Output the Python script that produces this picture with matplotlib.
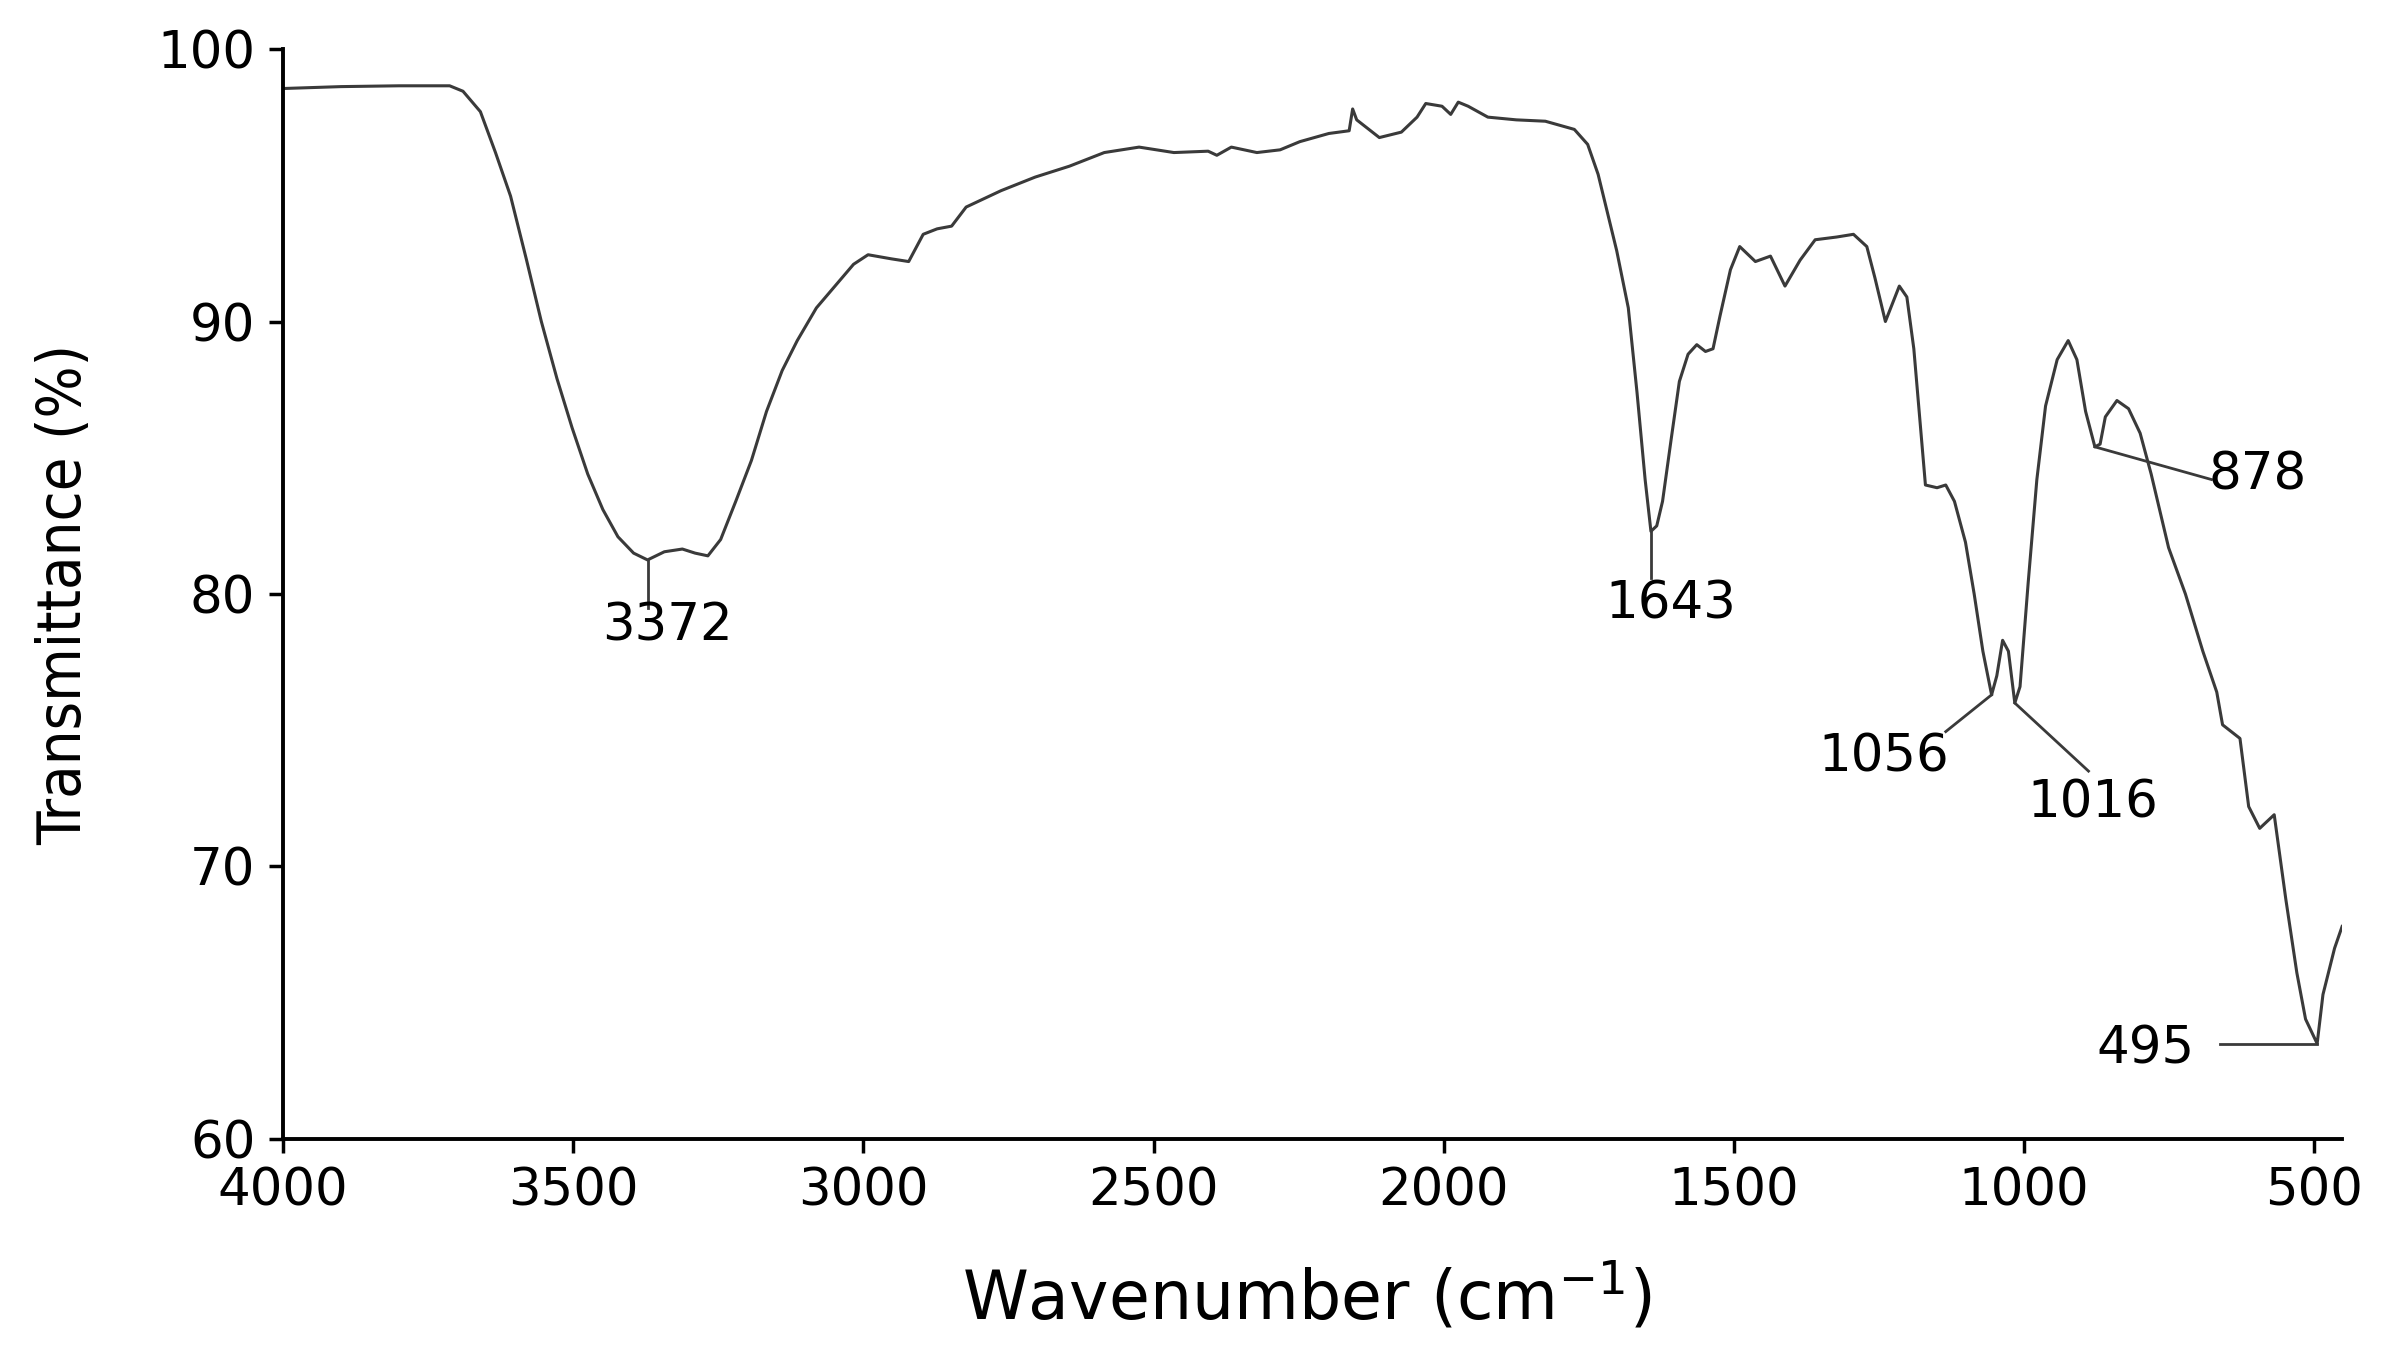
import matplotlib
matplotlib.use("Agg")
import matplotlib.pyplot as plt

# FTIR spectrum (wavenumber in cm-1, transmittance in %)
wavenumber = [4000, 3900, 3800, 3713, 3690, 3660, 3634, 3608, 3581, 3555,
              3528, 3502, 3475, 3449, 3423, 3396, 3372, 3343, 3312, 3290,
              3268, 3246, 3220, 3193, 3167, 3140, 3114, 3081, 3041, 3017,
              2992, 2952, 2922, 2897, 2873, 2848, 2823, 2763, 2704, 2645,
              2585, 2525, 2465, 2406, 2391, 2366, 2322, 2282, 2248, 2198,
              2163, 2157, 2150, 2111, 2073, 2046, 2031, 2003, 1988, 1975,
              1958, 1924, 1875, 1825, 1775, 1752, 1734, 1702, 1682, 1667,
              1653, 1643, 1633, 1623, 1608, 1594, 1579, 1564, 1549, 1536,
              1524, 1506, 1490, 1463, 1437, 1412, 1386, 1360, 1323, 1294,
              1271, 1257, 1239, 1215, 1202, 1190, 1170, 1150, 1135, 1120,
              1101, 1086, 1071, 1056, 1047, 1037, 1027, 1016, 1007, 993,
              978, 963, 943, 924, 909, 894, 878, 869, 860, 840,
              820, 800, 781, 751, 722, 692, 668, 658, 628, 613,
              594, 569, 549, 530, 515, 495, 485, 465, 452]
transmittance = [98.55, 98.62, 98.65, 98.65, 98.45, 97.7, 96.2, 94.6, 92.3, 90.0,
                 87.9, 86.1, 84.4, 83.1, 82.1, 81.5, 81.25, 81.55, 81.65, 81.5,
                 81.4, 82.0, 83.4, 84.9, 86.7, 88.2, 89.3, 90.5, 91.5, 92.1,
                 92.45, 92.3, 92.2, 93.2, 93.4, 93.5, 94.2, 94.8, 95.3, 95.7,
                 96.2, 96.4, 96.2, 96.25, 96.1, 96.4, 96.2, 96.3, 96.6, 96.9,
                 97.0, 97.8, 97.4, 96.75, 96.95, 97.5, 98.0, 97.9, 97.6, 98.05,
                 97.9, 97.5, 97.4, 97.35, 97.05, 96.5, 95.4, 92.6, 90.5, 87.4,
                 84.2, 82.3, 82.5, 83.4, 85.7, 87.8, 88.8, 89.15, 88.9, 89.0,
                 90.2, 91.9, 92.75, 92.2, 92.4, 91.3, 92.25, 93.0, 93.1, 93.2,
                 92.75, 91.6, 90.0, 91.3, 90.9, 89.0, 84.0, 83.9, 84.0, 83.4,
                 81.9, 80.0, 77.9, 76.3, 77.0, 78.3, 77.9, 76.0, 76.6, 80.4,
                 84.2, 86.9, 88.6, 89.3, 88.6, 86.7, 85.4, 85.5, 86.5, 87.1,
                 86.8, 85.9, 84.4, 81.7, 80.0, 77.9, 76.4, 75.2, 74.7, 72.2,
                 71.4, 71.9, 68.8, 66.1, 64.4, 63.5, 65.3, 67.0, 67.8]

# labelled bands
peak_labels = ["3372", "1643", "1056", "1016", "878", "495"]
peak_wn = [3372, 1643, 1056, 1016, 878, 495]
peak_t = [81.25, 82.3, 76.3, 76.0, 85.4, 63.5]

# leader line ends and label centres (data coords)
leader_end = [(3372, 79.5), (1643, 80.6), (1135, 74.95), (889, 73.5), (677, 84.2), (663, 63.5)]
label_pos = [(3338, 78.8), (1608, 79.6), (1241, 74.0), (881, 72.3), (597, 84.35), (790, 63.3)]

xticks = [4000, 3500, 3000, 2500, 2000, 1500, 1000, 500]
yticks = [60, 70, 80, 90, 100]

plt.rcParams['font.family'] = ['DejaVu Sans']

fig = plt.figure(figsize=(23.97, 13.5), dpi=100)
ax = fig.add_axes([0.1181, 0.1563, 0.859, 0.8074])

ax.plot(wavenumber, transmittance, color='#3a3a3a', lw=2.2)

for lab, x, y, (ex, ey), (tx, ty) in zip(peak_labels, peak_wn, peak_t, leader_end, label_pos):
    ax.plot([x, ex], [y, ey], color='#3a3a3a', lw=2.0)
    ax.text(tx, ty, lab, fontsize=37, ha='center', va='center')

ax.set_xlim(4000, 452)
ax.set_ylim(60, 100)
ax.set_xticks(xticks)
ax.set_yticks(yticks)
ax.tick_params(axis='both', labelsize=37, length=10, width=2.5, pad=10, direction='out')

for side in ['top', 'right']:
    ax.spines[side].set_visible(False)
for side in ['left', 'bottom']:
    ax.spines[side].set_linewidth(2.8)

ax.set_xlabel("Wavenumber (cm$^{-1}$)", fontsize=48)
ax.xaxis.label.set_va('center')
ax.xaxis.set_label_coords(0.497, -0.145)

ax.set_ylabel("Transmittance (%)", fontsize=44, fontstretch='condensed')
ax.yaxis.label.set_va('center')
ax.yaxis.set_label_coords(-0.106, 0.5)

fig.savefig("out.png", dpi=100)
